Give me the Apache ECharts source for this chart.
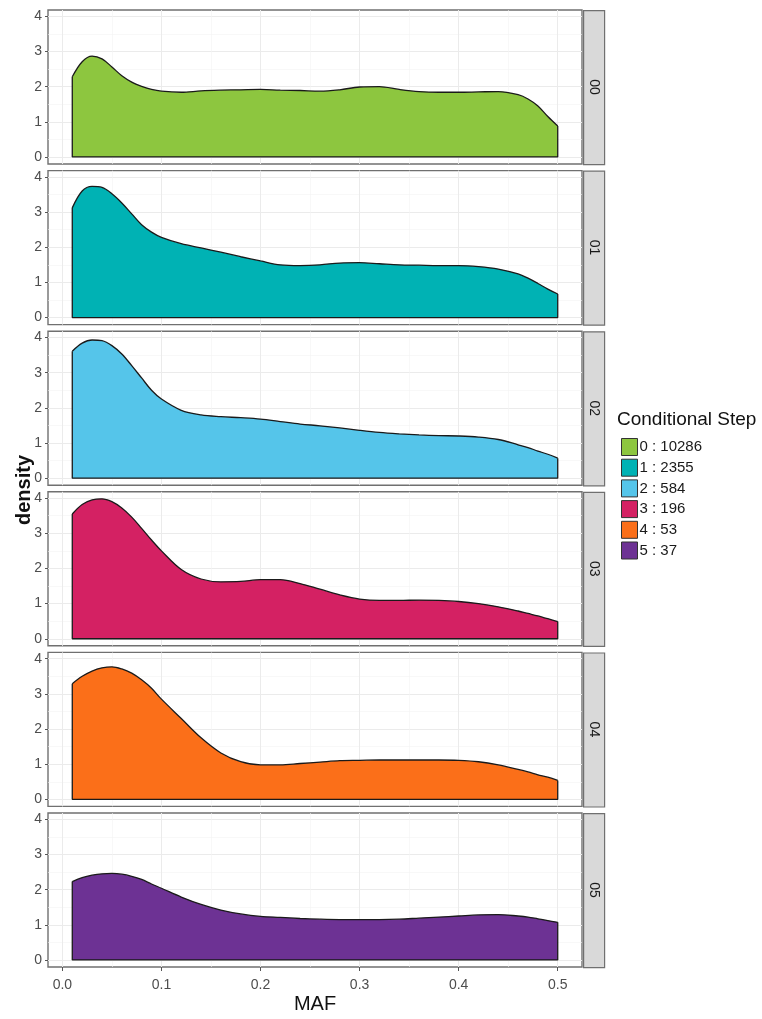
<!DOCTYPE html>
<html>
<head>
<meta charset="utf-8">
<script src="https://cdn.jsdelivr.net/npm/echarts@6/dist/echarts.min.js"></script>
<style>
html,body{margin:0;padding:0;background:#fff;}
#c{width:762px;height:1019px;}
</style>
</head>
<body>
<div id="c"></div>
<script>
// ---- data ----
const MAF = [0.01,0.02,0.03,0.04,0.05,0.06,0.07,0.08,0.09,0.10,
             0.12,0.14,0.16,0.18,0.20,0.22,0.24,0.26,0.28,0.30,0.32,0.34,0.36,0.38,0.40,0.42,0.44,0.46,
             0.47,0.48,0.49,0.50];
const D0 = [2.28,2.71,2.87,2.79,2.56,2.31,2.13,2.01,1.92,1.87,
            1.84,1.88,1.90,1.91,1.92,1.90,1.89,1.87,1.91,1.99,2.00,1.92,1.86,1.84,1.84,1.85,1.86,1.77,
            1.65,1.45,1.15,0.88];
const D1 = [3.12,3.60,3.73,3.70,3.52,3.26,2.95,2.64,2.43,2.28,
            2.10,1.98,1.86,1.73,1.61,1.50,1.48,1.50,1.55,1.56,1.53,1.50,1.49,1.48,1.48,1.45,1.38,1.24,
            1.12,0.97,0.81,0.67];
const D2 = [3.61,3.84,3.93,3.91,3.77,3.53,3.20,2.85,2.50,2.25,
            1.93,1.80,1.75,1.72,1.68,1.61,1.54,1.49,1.43,1.36,1.30,1.26,1.23,1.21,1.20,1.17,1.10,0.95,
            0.87,0.77,0.68,0.57];
const D3 = [3.55,3.82,3.95,3.98,3.90,3.72,3.46,3.14,2.81,2.50,
            1.97,1.70,1.62,1.63,1.68,1.68,1.57,1.41,1.25,1.13,1.09,1.09,1.10,1.09,1.06,1.00,0.91,0.79,
            0.72,0.65,0.57,0.49];
const D4 = [3.29,3.50,3.65,3.74,3.77,3.71,3.59,3.40,3.16,2.85,
            2.30,1.75,1.32,1.07,0.98,0.98,1.02,1.06,1.10,1.11,1.12,1.12,1.12,1.12,1.11,1.07,0.98,0.85,
            0.78,0.70,0.63,0.54];
const D5 = [2.23,2.34,2.41,2.45,2.46,2.44,2.38,2.29,2.16,2.04,
            1.79,1.58,1.42,1.31,1.24,1.21,1.18,1.16,1.15,1.15,1.15,1.16,1.19,1.22,1.25,1.28,1.29,1.25,
            1.22,1.17,1.12,1.07];
const STEPS = ['0 : 10286','1 : 2355','2 : 584','3 : 196','4 : 53','5 : 37'];
const STRIPS = ['00','01','02','03','04','05'];
const COLORS = ['#8DC63F','#00B2B4','#55C5EA','#D42163','#FB6F19','#6D3294'];
const X_TICKS = [0, 0.1, 0.2, 0.3, 0.4, 0.5];
const Y_TICKS = [0, 1, 2, 3, 4];
const LEGEND_TITLE = 'Conditional Step';
const X_NAME = 'MAF';
const Y_NAME = 'density';

// ---- layout ----
const FONT = "'Liberation Sans Narrow', 'Liberation Sans', Arial, sans-serif";
const PANELS = [D0, D1, D2, D3, D4, D5];
const LEFT = 48, WIDTH = 534, TOP0 = 10, PITCH = 160.6, HEIGHT = 154;

const chart = echarts.init(document.getElementById('c'), null, {renderer: 'canvas'});

const grids = [], xAxes = [], yAxes = [], series = [], graphics = [];

PANELS.forEach((d, i) => {
  const top = TOP0 + i * PITCH;
  const bottom = i === PANELS.length - 1;
  grids.push({left: LEFT, top: top, width: WIDTH, height: HEIGHT, show: true,
              backgroundColor: '#ffffff', borderColor: '#707070', borderWidth: 1.4, z: 0});
  xAxes.push({
    type: 'value', gridIndex: i, min: -0.0145, max: 0.5245, splitNumber: 5, position: 'bottom',
    axisLine: {show: false, onZero: false},
    axisTick: {show: bottom, length: 4, customValues: X_TICKS, lineStyle: {color: '#555', width: 1}},
    axisLabel: {show: bottom, margin: 11, fontSize: 14, color: '#4D4D4D', fontFamily: FONT,
                customValues: X_TICKS, formatter: v => v.toFixed(1)},
    splitLine: {show: true, lineStyle: {color: '#EBEBEB', width: 1}},
    minorTick: {show: false, splitNumber: 2},
    minorSplitLine: {show: true, lineStyle: {color: '#F3F3F3', width: 0.6}},
    name: bottom ? X_NAME : '', nameLocation: 'middle', nameGap: 27,
    nameTextStyle: {fontSize: 20, color: '#111', fontFamily: FONT}
  });
  yAxes.push({
    type: 'value', gridIndex: i, min: -0.2, max: 4.18, splitNumber: 5, position: 'left',
    axisLine: {show: false, onZero: false},
    axisTick: {show: true, length: 3, customValues: Y_TICKS, lineStyle: {color: '#555', width: 1}},
    axisLabel: {show: true, margin: 6, fontSize: 14, color: '#4D4D4D', fontFamily: FONT,
                customValues: Y_TICKS, formatter: v => String(Math.round(v))},
    splitLine: {show: true, lineStyle: {color: '#EBEBEB', width: 1}},
    minorTick: {show: false, splitNumber: 2},
    minorSplitLine: {show: true, lineStyle: {color: '#F3F3F3', width: 0.6}}
  });
  const pts = MAF.map((x, k) => [x, d[k]]);
  series.push({
    name: STEPS[i], type: 'line', xAxisIndex: i, yAxisIndex: i,
    data: pts, smooth: 0.35, symbol: 'none', silent: true,
    lineStyle: {color: '#1a1a1a', width: 1.3},
    itemStyle: {color: COLORS[i]},
    areaStyle: {color: COLORS[i], opacity: 1},
    z: 3
  });
  const n = MAF.length - 1;
  series.push({
    name: 'outline' + i, type: 'line', xAxisIndex: i, yAxisIndex: i,
    data: [[MAF[0], d[0]], [MAF[0], 0], [MAF[n], 0], [MAF[n], d[n]]],
    symbol: 'none', silent: true, smooth: false,
    lineStyle: {color: '#1a1a1a', width: 1.3}, z: 4
  });
  // facet strip
  graphics.push({type: 'rect', left: LEFT + WIDTH + 1, top: top, z: 10,
    shape: {width: 21, height: HEIGHT},
    style: {fill: '#D9D9D9', stroke: '#707070', lineWidth: 1.2}});
  graphics.push({type: 'text', x: LEFT + WIDTH + 11.5, y: top + HEIGHT / 2, rotation: -Math.PI / 2, z: 11,
    style: {text: STRIPS[i], x: 0, y: 0, align: 'center', verticalAlign: 'middle',
            textAlign: 'center', textVerticalAlign: 'middle',
            fontSize: 14, fill: '#1A1A1A', fontFamily: FONT}});
});

graphics.push({type: 'text', x: 24, y: 490, rotation: Math.PI / 2, z: 11,
  style: {text: Y_NAME, x: 0, y: 0, align: 'center', verticalAlign: 'middle',
          textAlign: 'center', textVerticalAlign: 'middle',
          fontSize: 20, fontWeight: 'bold', fill: '#111', fontFamily: "'Liberation Sans', Arial, sans-serif"}});
graphics.push({type: 'text', left: 617, top: 410, z: 11,
  style: {text: LEGEND_TITLE, fontSize: 19, fill: '#111', fontFamily: FONT}});

chart.setOption({
  animation: false,
  backgroundColor: '#ffffff',
  grid: grids, xAxis: xAxes, yAxis: yAxes, series: series,
  legend: {
    orient: 'vertical', left: 621, top: 438, itemWidth: 16, itemHeight: 17, itemGap: 2.7,
    icon: 'rect', selectedMode: false, padding: 0,
    textStyle: {fontSize: 15, color: '#1a1a1a', fontFamily: FONT, padding: [0, 0, 0, -3]},
    data: STEPS.map((s, i) => ({name: s, itemStyle: {color: COLORS[i], borderColor: '#333', borderWidth: 1}}))
  },
  graphic: graphics
});
</script>
</body>
</html>
